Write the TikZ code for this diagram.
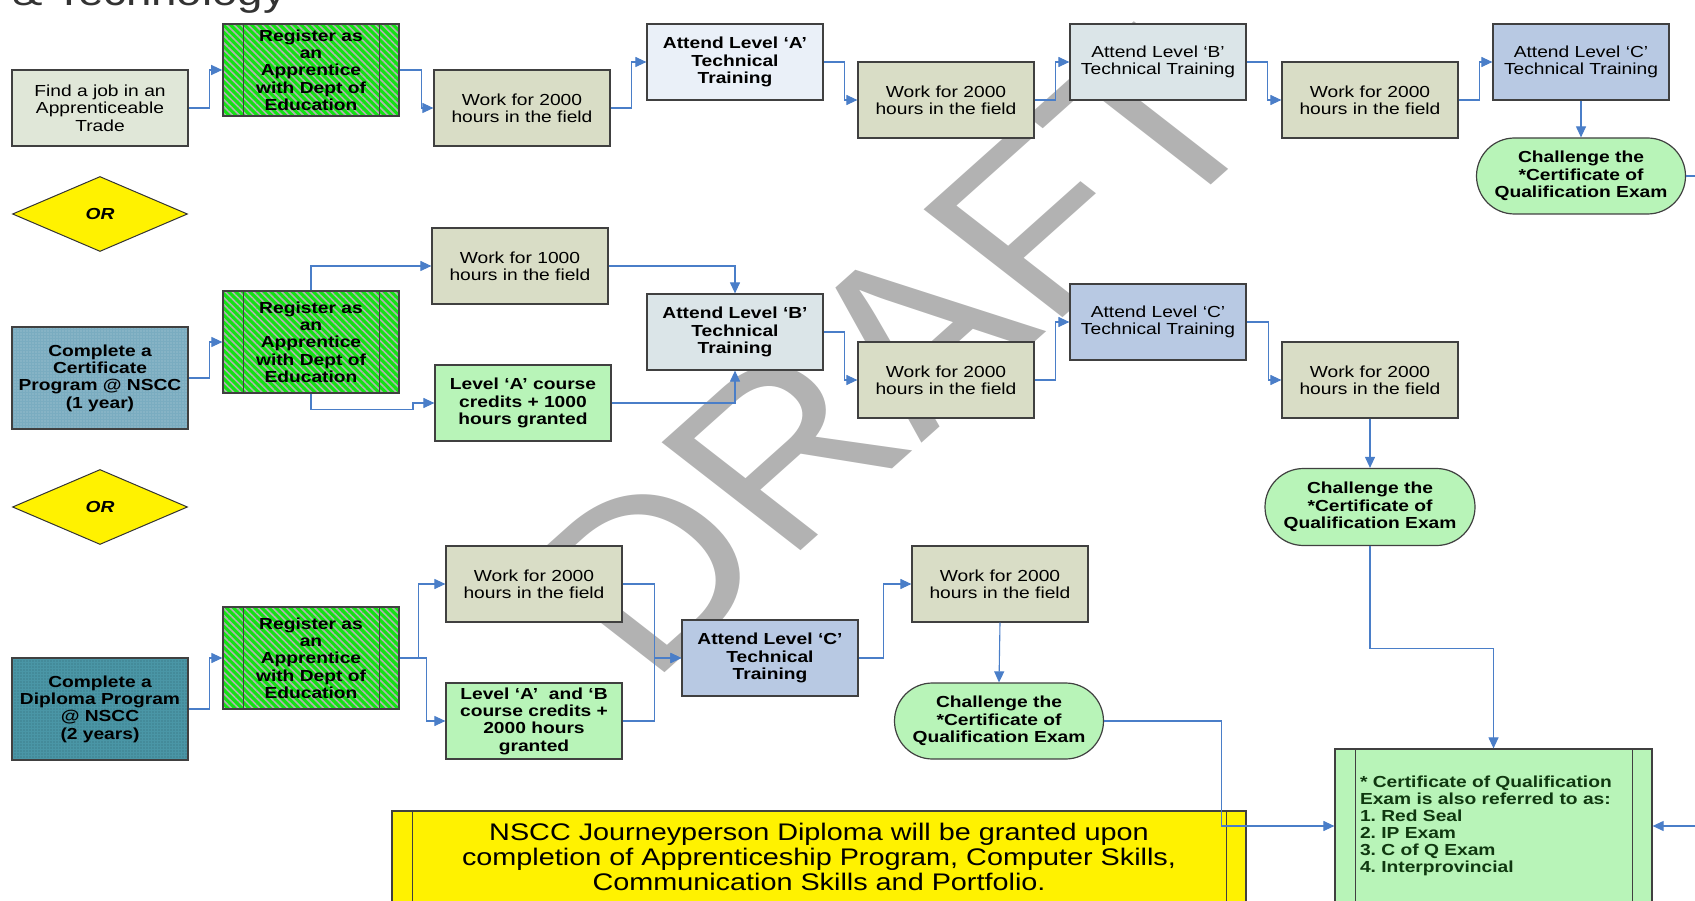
\documentclass[tikz,border=0pt]{standalone}
\usepackage{fontspec}
\setmainfont{Liberation Sans}[FakeStretch=1.2]
\newfontfamily\wmfont{Liberation Sans}
\usetikzlibrary{positioning,arrows.meta,shapes.geometric,shapes.misc,patterns.meta}

\definecolor{linkblue}{RGB}{74,126,200}
\definecolor{findfill}{RGB}{224,231,216}
\definecolor{workfill}{RGB}{217,221,198}
\definecolor{attafill}{RGB}{234,240,248}
\definecolor{attbfill}{RGB}{219,229,232}
\definecolor{attcfill}{RGB}{184,201,227}
\definecolor{creditfill}{RGB}{184,244,184}
\definecolor{regfill}{RGB}{20,225,20}
\definecolor{certfill}{RGB}{122,172,192}
\definecolor{diplfill}{RGB}{74,150,166}
\definecolor{notetext}{RGB}{16,56,16}

\tikzset{
  box/.style={draw=black!75, line width=1.2pt, minimum width=176pt, minimum height=76pt,
    inner sep=1pt, align=center, font=\fontsize{16}{17.3}\selectfont},
  workbox/.style={box, fill=workfill},
  regbox/.style={box, minimum height=102pt, preaction={fill=regfill},
    pattern={Lines[angle=-45,distance=5pt,line width=1.6pt]}, pattern color=black!30,
    font=\fontsize{16}{17.3}\selectfont\bfseries},
  progbox/.style={box, minimum height=102pt, font=\fontsize{16}{17.3}\selectfont\bfseries,
    pattern={Dots[distance=3pt,radius=0.7pt]}},
  chal/.style={box, rounded rectangle, minimum width=211pt, fill=creditfill,
    font=\fontsize{16}{17.3}\selectfont\bfseries},
  ordiam/.style={diamond, draw=black!80, line width=1pt, fill=yellow, shape aspect=2.33,
    minimum width=175pt, minimum height=75pt, inner sep=0pt,
    font=\fontsize{16}{17}\selectfont\bfseries\itshape},
  rim/.style={draw=black!75, line width=1.1pt},
  link/.style={draw=linkblue, line width=1.1pt, -{Triangle[length=11pt,width=10pt]}},
  wmark/.style={text=black!30, inner sep=0pt, rotate=47, transform shape,
    font=\wmfont\fontsize{230}{230}\selectfont}
}

\begin{document}
\frenchspacing
\begin{tikzpicture}[x=1pt,y=-1pt]
\useasboundingbox (0,0) rectangle (1695,901);
\clip (0,0) rectangle (1695,901);

% watermark behind everything
\begin{scope}[xscale=1.2]
  \node[wmark] (draft) at (745,352) {DRAFT};
\end{scope}

% heading, cut off at the top
\node[anchor=base west, inner sep=0pt, text=black!80,
  font=\fontsize{38}{40}\selectfont] (heading) at (12,6) {\&~Technology};

% first route
\node[box, fill=findfill] (find) at (100,108) {Find a job in an\\Apprenticeable\\Trade};
\node[regbox, minimum height=92pt] (reg1) at (311,70) {Register as\\an\\Apprentice\\with Dept of\\Education};
\node[workbox] (w1) at (522,108) {Work for 2000\\hours in the field};
\node[box, fill=attafill, font=\fontsize{16}{17.3}\selectfont\bfseries] (attA) at (735,62) {Attend Level ‘A’\\Technical\\Training};
\node[workbox] (w2) at (946,100) {Work for 2000\\hours in the field};
\node[box, fill=attbfill] (attB) at (1158,62) {Attend Level ‘B’\\Technical Training};
\node[workbox] (w3) at (1370,100) {Work for 2000\\hours in the field};
\node[box, fill=attcfill] (attC) at (1581,62) {Attend Level ‘C’\\Technical Training};
\node[chal] (ch1) at (1581,176) {Challenge the\\*Certificate of\\Qualification Exam};
\node[ordiam] (or1) at (100,214) {OR};

% second route
\node[progbox, preaction={fill=certfill}, pattern color=white!40!certfill] (cert) at (100,378) {Complete a\\Certificate\\Program @ NSCC\\(1 year)};
\node[regbox] (reg2) at (311,342) {Register as\\an\\Apprentice\\with Dept of\\Education};
\node[workbox] (w1000) at (520,266) {Work for 1000\\hours in the field};
\node[box, fill=creditfill, font=\fontsize{16}{17.3}\selectfont\bfseries] (levA) at (523,403) {Level ‘A’ course\\credits + 1000\\hours granted};
\node[box, fill=attbfill, font=\fontsize{16}{17.3}\selectfont\bfseries] (attB2) at (735,332) {Attend Level ‘B’\\Technical\\Training};
\node[workbox] (w4) at (946,380) {Work for 2000\\hours in the field};
\node[box, fill=attcfill] (attC2) at (1158,322) {Attend Level ‘C’\\Technical Training};
\node[workbox] (w5) at (1370,380) {Work for 2000\\hours in the field};
\node[chal, minimum width=212pt, minimum height=77pt] (ch2) at (1370,507) {Challenge the\\*Certificate of\\Qualification Exam};
\node[ordiam] (or2) at (100,507) {OR};

% third route
\node[progbox, preaction={fill=diplfill}, pattern color=black!30!diplfill] (dipl) at (100,709) {Complete a\\Diploma Program\\@ NSCC\\(2 years)};
\node[regbox] (reg3) at (311,658) {Register as\\an\\Apprentice\\with Dept of\\Education};
\node[workbox] (w6) at (534,584) {Work for 2000\\hours in the field};
\node[box, fill=creditfill, font=\fontsize{16}{17.3}\selectfont\bfseries] (levAB) at (534,721) {Level ‘A’~ and ‘B\\course credits +\\2000 hours\\granted};
\node[box, fill=attcfill, font=\fontsize{16}{17.3}\selectfont\bfseries] (attC3) at (770,658) {Attend Level ‘C’\\Technical\\Training};
\node[workbox] (w7) at (1000,584) {Work for 2000\\hours in the field};
\node[chal] (ch3) at (999,721) {Challenge the\\*Certificate of\\Qualification Exam};

% notes at the bottom
\node[box, fill=yellow, minimum width=854pt, minimum height=92pt,
  font=\fontsize{24}{25}\selectfont] (diploma) at (819,857)
  {NSCC Journeyperson Diploma will be granted upon\\completion of Apprenticeship Program, Computer Skills,\\Communication Skills and Portfolio.};
\node[box, fill=creditfill, minimum width=317pt, minimum height=154pt, inner sep=0pt,
  text width=267pt, align=left, text=notetext,
  font=\fontsize{16}{17}\selectfont\bfseries] (cq) at (1493.5,826)
  {* Certificate of Qualification\\Exam is also referred to as:\\1. Red Seal\\2. IP Exam\\3. C of Q Exam\\4. Interprovincial};

% inner rims of the framed boxes
\foreach \b in {reg1,reg2,reg3,cq,diploma} {
  \draw[rim] ([xshift=21pt]\b.north west) -- ([xshift=21pt]\b.south west);
  \draw[rim] ([xshift=-20pt]\b.north east) -- ([xshift=-20pt]\b.south east);
}

% connectors
\draw[link] (find.east) -- ++(21,0) |- (reg1.west);
\draw[link] (reg1.east) -- ++(22,0) |- (w1.west);
\draw[link] (w1.east) -- ++(21,0) |- (attA.west);
\draw[link] (attA.east) -- ++(21,0) |- (w2.west);
\draw[link] (w2.east) -- ++(21,0) |- (attB.west);
\draw[link] (attB.east) -- ++(21,0) |- (w3.west);
\draw[link] (w3.east) -- ++(21,0) |- (attC.west);
\draw[link] (attC.south) -- (ch1.north);
\draw[link] (ch1.east) -- ++(40,0) |- (cq.east);

\draw[link] (cert.east) -- ++(21,0) |- (reg2.west);
\draw[link] (reg2.north) |- (w1000.west);
\draw[link] (reg2.south) -- ++(0,16) -- ++(102,0) |- (levA.west);
\draw[link] (w1000.east) -| (attB2.north);
\draw[link] (levA.east) -| (attB2.south);
\draw[link] (attB2.east) -- ++(21,0) |- (w4.west);
\draw[link] (w4.east) -- ++(21,0) |- (attC2.west);
\draw[link] (attC2.east) -- ++(22,0) |- (w5.west);
\draw[link] (w5.south) -- (ch2.north);
\draw[link] (ch2.south) -- ++(0,102) -| (cq.north);

\draw[link] (dipl.east) -- ++(21,0) |- (reg3.west);
\draw[link] (reg3.east) -- ++(19,0) |- (w6.west);
\draw[link] (reg3.east) -- ++(27,0) |- (levAB.west);
\draw[link] (w6.east) -- ++(32,0) |- (attC3.west);
\draw[link] (levAB.east) -- ++(32,0) |- (attC3.west);
\draw[link] (attC3.east) -- ++(25,0) |- (w7.west);
\draw[link] (w7.south) -- (ch3.north);
\draw[link] (ch3.east) -- ++(117,0) |- (cq.west);
\end{tikzpicture}
\end{document}
